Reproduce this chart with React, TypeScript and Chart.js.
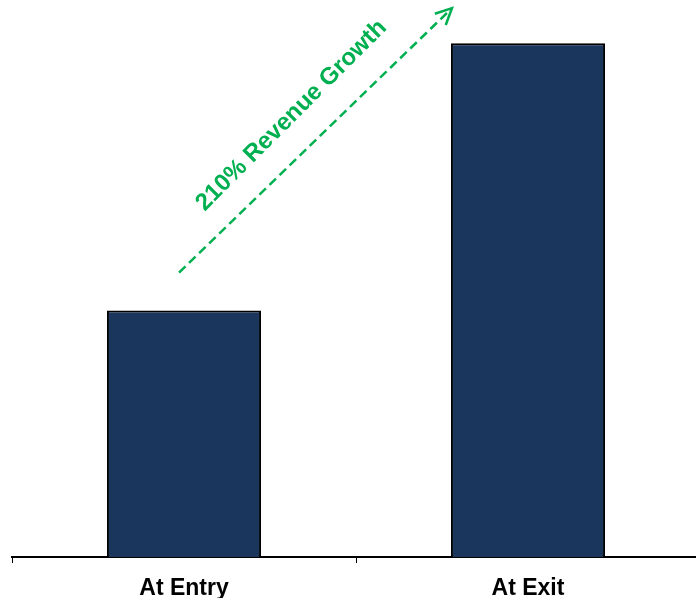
import React, { useEffect, useRef } from "react";
import { Chart, registerables } from "chart.js";

Chart.register(...registerables);

const categories = ["At Entry", "At Exit"];
const revenue = [100, 208.5];
const yMax = 226;
const growthLabel = "210% Revenue Growth";

const BAR_COLOR = "#1a365d";
const GREEN = "#00b050";
const FONT = "'Liberation Sans', Arial, Helvetica, sans-serif";

const arrowPlugin = {
  id: "growthArrow",
  afterDraw(chart: any) {
    const bars = chart.getDatasetMeta(0).data;
    if (!bars || bars.length < 2) return;
    const b1 = bars[0];
    const b2 = bars[1];
    const sx = b1.x - 5;
    const sy = b1.y - 38;
    const ex = b2.x - b2.width / 2 + 1;
    const ey = b2.y - 35;
    const ctx = chart.ctx;
    ctx.save();
    ctx.strokeStyle = GREEN;
    ctx.lineWidth = 2.5;
    ctx.setLineDash([9, 5]);
    ctx.beginPath();
    ctx.moveTo(sx, sy);
    ctx.lineTo(ex, ey);
    ctx.stroke();
    // arrow head
    const ang = Math.atan2(ey - sy, ex - sx);
    const hl = 18;
    const spread = 0.45;
    ctx.setLineDash([]);
    ctx.lineWidth = 2.5;
    ctx.beginPath();
    ctx.moveTo(ex - hl * Math.cos(ang - spread), ey - hl * Math.sin(ang - spread));
    ctx.lineTo(ex, ey);
    ctx.lineTo(ex - hl * Math.cos(ang + spread), ey - hl * Math.sin(ang + spread));
    ctx.stroke();
    // label
    const mx = (sx + ex) / 2;
    const my = (sy + ey) / 2;
    const nx = Math.sin(ang);
    const ny = -Math.cos(ang);
    const off = 36;
    const tx = mx + nx * off + 1;
    const ty = my + ny * off + 1;
    ctx.translate(tx, ty);
    ctx.rotate(-Math.PI / 4);
    ctx.fillStyle = GREEN;
    ctx.font = `bold 24px ${FONT}`;
    ctx.textAlign = "center";
    ctx.textBaseline = "middle";
    ctx.fillText(growthLabel, 0, 0);
    ctx.restore();
  },
};

export default function App() {
  const ref = useRef<HTMLCanvasElement | null>(null);
  useEffect(() => {
    if (!ref.current) return;
    const chart = new Chart(ref.current, {
      type: "bar",
      data: {
        labels: categories,
        datasets: [
          {
            data: revenue,
            backgroundColor: BAR_COLOR,
            borderColor: "#000000",
            borderWidth: 2,
            barPercentage: 0.448,
            categoryPercentage: 1,
          },
        ],
      },
      options: {
        animation: false,
        responsive: true,
        maintainAspectRatio: false,
        layout: { padding: { left: 12, right: 0, top: 0, bottom: 0 } },
        plugins: {
          legend: { display: false },
          tooltip: { enabled: false },
        },
        scales: {
          x: {
            afterFit: (scale: any) => {
              scale.height = 41;
            },
            grid: {
              display: true,
              drawOnChartArea: false,
              drawTicks: true,
              tickLength: 6,
              color: "#000000",
              lineWidth: 1,
              offset: true,
            },
            border: { display: true, color: "#000000", width: 2 },
            ticks: {
              color: "#000000",
              padding: 12,
              font: { family: FONT, size: 23, weight: "bold" },
            },
          },
          y: {
            display: false,
            min: 0,
            max: yMax,
          },
        },
      },
      plugins: [arrowPlugin],
    });
    return () => chart.destroy();
  }, []);
  return (
    <div
      style={{
        position: "absolute",
        left: 0,
        top: 0,
        width: 696,
        height: 598,
        overflow: "hidden",
        background: "#ffffff",
      }}
    >
      <div style={{ position: "relative", width: 700, height: 598 }}>
        <canvas ref={ref} />
      </div>
    </div>
  );
}
